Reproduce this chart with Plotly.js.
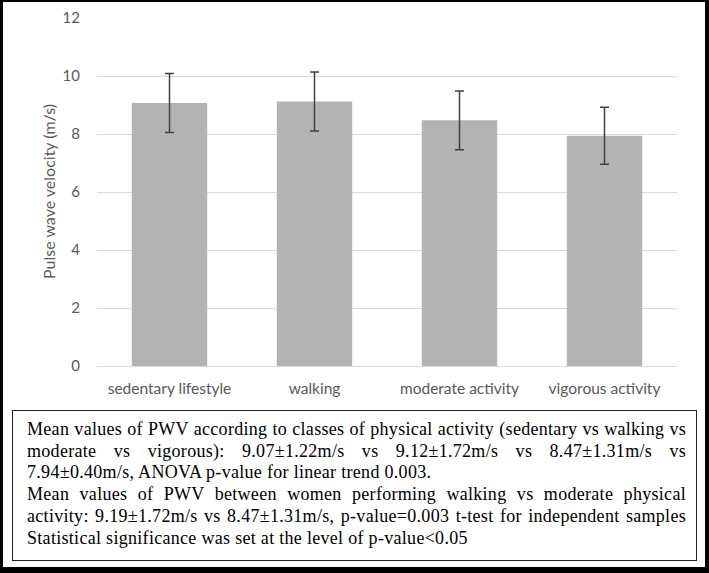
<!DOCTYPE html>
<html>
<head>
<meta charset="utf-8">
<script src="https://cdn.plot.ly/plotly-3.0.1.min.js"></script>
<style>
  html, body { margin: 0; padding: 0; background: #fff; }
  #frame { position: absolute; left: 0; top: 0; width: 709px; height: 573px; box-sizing: border-box;
           border-left: 3px solid #000; border-top: 2px solid #000; border-right: 4px solid #000; border-bottom: 6px solid #000; }
  #chart { position: absolute; left: 0; top: 0; width: 709px; height: 410px; }
  #note { position: absolute; left: 12px; top: 410px; width: 685px; height: 151px; box-sizing: border-box;
          border: 1.5px solid #222; padding: 8px 10px 0 14px;
          font-family: "Liberation Serif", "Times New Roman", serif; font-size: 18px; letter-spacing: 0.3px;
          line-height: 21.7px; color: #000; }
  .j { text-align: justify; text-align-last: justify; white-space: nowrap; }
  .l { text-align: left; white-space: nowrap; }
</style>
</head>
<body>
<div id="frame"></div>
<div id="chart"></div>
<div id="note">
  <div class="j">Mean values of PWV according to classes of physical activity (sedentary vs walking vs</div>
  <div class="j">moderate vs vigorous): 9.07±1.22m/s vs 9.12±1.72m/s vs 8.47±1.31m/s vs</div>
  <div class="l">7.94±0.40m/s, ANOVA p-value for linear trend 0.003.</div>
  <div class="j">Mean values of PWV between women performing walking vs moderate physical</div>
  <div class="j">activity: 9.19±1.72m/s vs 8.47±1.31m/s, p-value=0.003 t-test for independent samples</div>
  <div class="l">Statistical significance was set at the level of p-value&lt;0.05</div>
</div>
<script>
const categories = ["sedentary lifestyle", "walking", "moderate activity", "vigorous activity"];
const pwvMeans = [9.07, 9.12, 8.47, 7.94];
const pwvErrors = [1.02, 1.02, 1.01, 0.98];
const yTicks = [0, 2, 4, 6, 8, 10, 12];
const yTitle = "Pulse wave velocity (m/s)";

const trace = {
  type: "bar",
  x: categories,
  y: pwvMeans,
  marker: { color: "#b3b3b3" },
  error_y: { type: "data", array: pwvErrors, visible: true, color: "#404040", thickness: 1.5, width: 4.5 },
  hoverinfo: "none"
};

const layout = {
  width: 709, height: 410,
  margin: { l: 97, r: 32, t: 18, b: 44, pad: 0 },
  paper_bgcolor: "rgba(0,0,0,0)",
  plot_bgcolor: "rgba(0,0,0,0)",
  bargap: 0.48,
  showlegend: false,
  font: { family: "Lato, 'Open Sans', sans-serif", size: 15, color: "#595959" },
  xaxis: {
    showgrid: false, zeroline: false, showline: false, ticks: "",
    tickfont: { size: 15.5, color: "#595959" },
    ticklabelstandoff: 11
  },
  yaxis: {
    range: [0, 12], tickvals: yTicks, ticktext: yTicks.map(String),
    showgrid: true, gridcolor: "#d9d9d9", gridwidth: 1,
    zeroline: true, zerolinecolor: "#d9d9d9", zerolinewidth: 1,
    showline: false, ticks: "",
    tickfont: { size: 15, color: "#595959" },
    ticklabelstandoff: 16
  },
  annotations: [{
    text: yTitle, textangle: -90, showarrow: false,
    xref: "paper", yref: "paper", x: 0, y: 0.5, xanchor: "center", yanchor: "middle",
    xshift: -49, font: { size: 16, color: "#595959" }
  }]
};

Plotly.newPlot("chart", [trace], layout, { staticPlot: true, displayModeBar: false });
</script>
</body>
</html>
